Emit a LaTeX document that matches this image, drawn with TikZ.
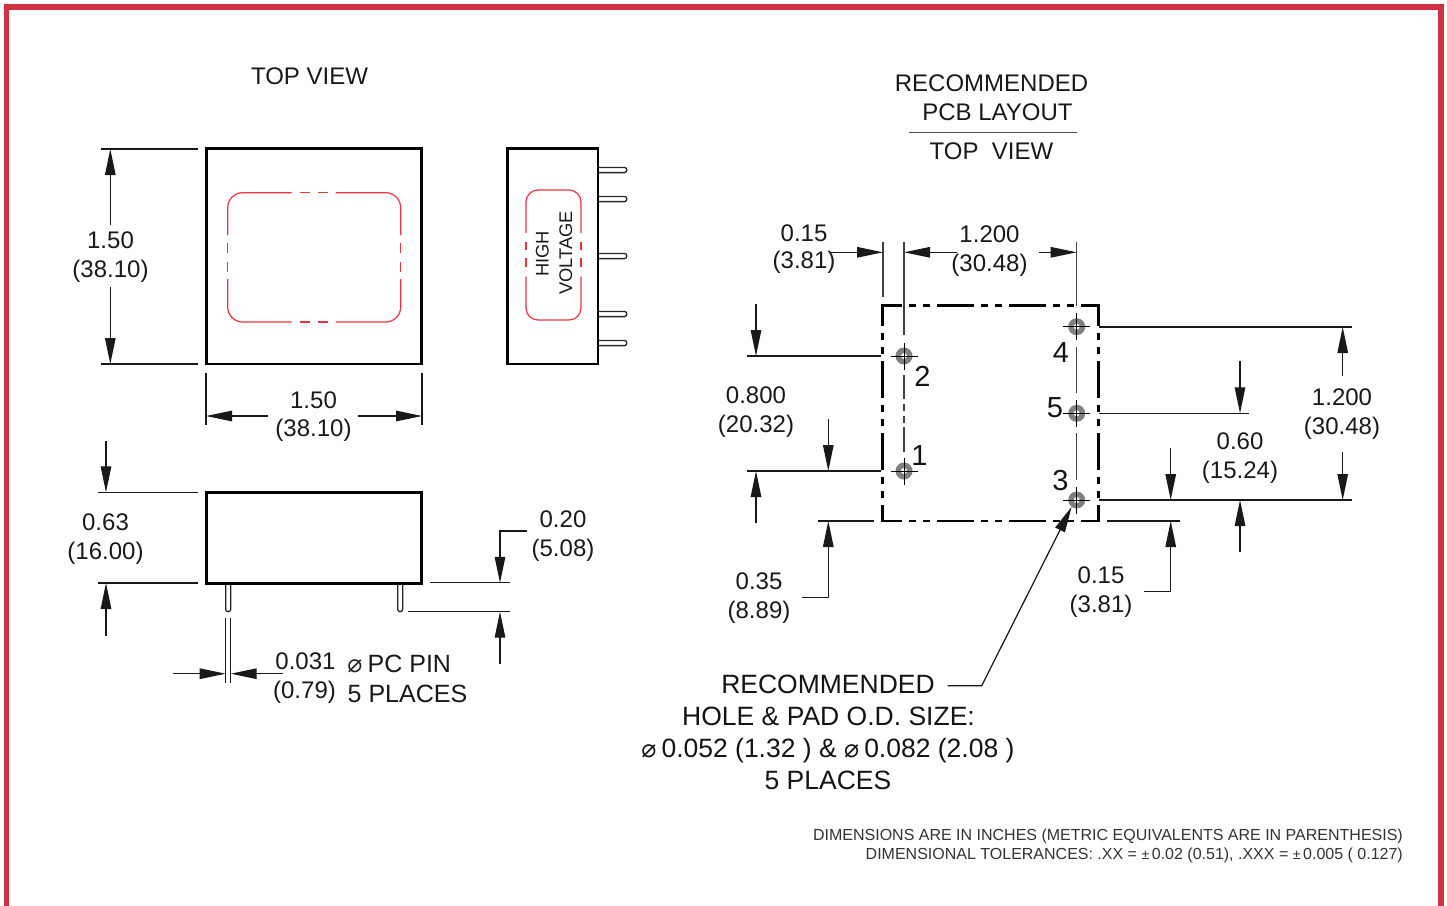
\documentclass[tikz,border=0pt]{standalone}
\usepackage{fontspec}
\setmainfont{Liberation Sans}
\newfontfamily\symf{DejaVu Sans}
\usetikzlibrary{arrows.meta}
\definecolor{frame}{HTML}{CF3341}
\definecolor{redline}{HTML}{EC3340}
\newcommand{\fs}[1]{\fontsize{#1}{#1}\selectfont}
\newcommand{\dia}[1]{{\symf\fs{#1}⌀}}
\tikzset{
  x=1pt,y=-1pt,
  lab/.style={anchor=base,inner sep=0pt,font=\fs{24},text=black!90},
  bigl/.style={anchor=base,inner sep=0pt,font=\fs{26.5},text=black!92},
  num/.style={anchor=base,inner sep=0pt,font=\fs{29},text=black!92},
  note/.style={anchor=base east,inner sep=0pt,font=\fs{16},text=black!80},
  thin line/.style={line width=1.25pt,black!90},
  dimar/.style={thin line,-{Triangle[length=26pt,width=10.5pt]}},
  body/.style={line width=2.8pt,black,line join=miter},
  pinline/.style={line width=1.3pt,black!85,rounded corners=2.4pt},
  redl/.style={line width=1.2pt,redline},
  dashrect/.style={line width=2.8pt,black,dash pattern=on 37pt off 7pt on 7pt off 7pt on 7pt off 7pt,dash phase=15.8pt},
  cline/.style={line width=1.2pt,black!75},
}
\begin{document}
\begin{tikzpicture}
\useasboundingbox (0,0) rectangle (1447,905);
\fill[white] (0,0) rectangle (1447,905);
% outer frame
\draw[frame,line width=5.5pt,line join=miter] (6.7,910) -- (6.7,6.8) -- (1441,6.8) -- (1441,910);

% ---------- titles
\node[lab] (t1) at (309.5,84) {TOP VIEW};
\node[lab] (t2) at (991.5,91) {RECOMMENDED};
\node[lab] (t3) at (997.5,120) {PCB LAYOUT};
\node[lab] (t4) at (991.5,159) {TOP\ \ VIEW};
\draw[line width=1pt,black!70] (909,132) -- (1077,132);

% ---------- top view body
\draw[body] (206.2,148.8) rectangle (421.8,364);
\draw[redl,rounded corners=15pt] (227.7,235) -- (227.7,192.7) -- (291.7,192.7);
\draw[redl,rounded corners=15pt] (335.7,192.7) -- (400.7,192.7) -- (400.7,235);
\draw[redl,rounded corners=15pt] (227.7,279) -- (227.7,322) -- (291.7,322);
\draw[redl,rounded corners=15pt] (335.7,322) -- (400.7,322) -- (400.7,279);
\foreach \y in {192.7,322}{
  \draw[redl] (300,\y) -- (310,\y);
  \draw[redl] (318,\y) -- (328,\y);
}
\foreach \x in {227.7,400.7}{
  \draw[redl] (\x,243) -- (\x,253);
  \draw[redl] (\x,262) -- (\x,272);
}

% ---------- side view body
\foreach \y in {170,199,256,314,343}{
  \draw[pinline] (598,\y-2.6) -- (626.8,\y-2.6) -- (626.8,\y+2.6) -- (598,\y+2.6);
}
\draw[body] (507.3,148.8) rectangle (598,364);
\draw[redl,rounded corners=12pt] (526,233) -- (526,190) -- (581,190) -- (581,233);
\draw[redl,rounded corners=12pt] (526,276.7) -- (526,320) -- (581,320) -- (581,276.7);
\foreach \x in {526,581}{
  \draw[redl] (\x,241.7) -- (\x,250);
  \draw[redl] (\x,258) -- (\x,267);
}
\node[anchor=base,rotate=90,inner sep=0pt,font=\fs{18.3},text=black!90] (hv1) at (548.5,254) {HIGH};
\node[anchor=base,rotate=90,inner sep=0pt,font=\fs{18.3},text=black!90] (hv2) at (572,253) {VOLTAGE};

% ---------- dims of top view
\draw[thin line] (101,149) -- (198,149);
\draw[thin line] (101,364) -- (198,364);
\draw[dimar] (110.3,225) -- (110.3,149);
\draw[dimar] (110.3,287) -- (110.3,364);
\node[lab] (d1) at (110.5,248) {1.50};
\node[lab] (d2) at (110.5,277) {(38.10)};
\draw[thin line] (206,373) -- (206,425);
\draw[thin line] (422,373) -- (422,425);
\draw[dimar] (268,416) -- (206,416);
\draw[dimar] (358,416) -- (422,416);
\node[lab] (d3) at (313.5,408) {1.50};
\node[lab] (d4) at (313.5,436) {(38.10)};

% ---------- front view body
\draw[pinline] (225.7,584) -- (225.7,611.7) -- (230.7,611.7) -- (230.7,584);
\draw[pinline] (397.7,584) -- (397.7,611.7) -- (402.7,611.7) -- (402.7,584);
\draw[body] (206.2,492.5) rectangle (421.8,583.5);

\draw[thin line] (98,492.3) -- (198,492.3);
\draw[thin line] (98,583) -- (198,583);
\draw[dimar] (106,441) -- (106,492.3);
\draw[dimar] (106,636) -- (106,583);
\node[lab] (d5) at (105.5,530) {0.63};
\node[lab] (d6) at (105.5,559) {(16.00)};

\draw[thin line] (430,582.8) -- (510,582.8);
\draw[thin line] (408,611.7) -- (510,611.7);
\draw[dimar] (526.7,531) -- (500,531) -- (500,582.8);
\draw[dimar] (500,664) -- (500,611.7);
\node[lab] (d7) at (563,527) {0.20};
\node[lab] (d8) at (563,556) {(5.08)};

\draw[thin line] (225.7,617.7) -- (225.7,683);
\draw[thin line] (230.7,617.7) -- (230.7,683);
\draw[dimar] (173,673.7) -- (225.7,673.7);
\draw[dimar] (282.7,673.7) -- (230.7,673.7);
\node[lab] (d9) at (305.5,669) {0.031};
\node[lab] (d10) at (304.5,698) {(0.79)};
\node[anchor=base,inner sep=0pt,text=black!85] (d11) at (355,672.5) {\dia{25}};
\node[anchor=base west,inner sep=0pt,font=\fs{25},text=black!90] (d12) at (367.5,672) {PC PIN};
\node[anchor=base west,inner sep=0pt,font=\fs{25},text=black!90] (d13) at (347.5,702) {5 PLACES};

% ---------- PCB layout
\draw[cline] (883,242) -- (883,297);
\draw[cline] (904,242) -- (904,335);
\draw[cline] (1076.7,242) -- (1076.7,306);
\draw[cline] (904,375) -- (904,399);
\draw[cline] (904,404) -- (904,411);
\draw[cline] (904,416) -- (904,423);
\draw[cline] (904,427) -- (904,452);
\draw[cline] (1076.7,347) -- (1076.7,393);
\draw[cline] (1076.7,433) -- (1076.7,480);

\draw[dashrect] (880.9,305.7) -- (1099.7,305.7);
\draw[dashrect] (880.9,520.9) -- (1099.7,520.9);
\draw[dashrect] (882.3,304.3) -- (882.3,522.3);
\draw[dashrect] (1098.3,304.3) -- (1098.3,522.3);

\foreach \n/\x/\y in {p2/904/356,p1/904/471,p4/1076.7/326.7,p5/1076.7/413.3,p3/1076.7/500}{
  \coordinate (\n) at (\x,\y);
  \fill[black!50] (\n) circle[radius=8.5pt];
  \fill[white] (\n) circle[radius=3pt];
  \draw[line width=1pt,black] (\x-13.5,\y) -- (\x+13.5,\y);
  \draw[line width=1pt,black] (\x,\y-13.5) -- (\x,\y+13.5);
}
\node[num] (n1) at (919.5,465) {1};
\node[num] (n2) at (922.5,386) {2};
\node[num] (n3) at (1060.5,490) {3};
\node[num] (n4) at (1061,362) {4};
\node[num] (n5) at (1055,417) {5};

% dims top
\draw[dimar] (830,252.3) -- (883,252.3);
\draw[dimar] (956.7,252.3) -- (904,252.3);
\draw[dimar] (1039,252.3) -- (1076.7,252.3);
\node[lab] (e1) at (804,241) {0.15};
\node[lab] (e2) at (804,268) {(3.81)};
\node[lab] (e3) at (989.5,242) {1.200};
\node[lab] (e4) at (989.5,271) {(30.48)};

% dims left
\draw[thin line] (746.7,356) -- (881,356);
\draw[thin line] (746.7,471) -- (881,471);
\draw[dimar] (756,304) -- (756,356);
\draw[dimar] (828.3,419) -- (828.3,471);
\draw[dimar] (756,523) -- (756,471);
\draw[thin line] (818,521) -- (874,521);
\draw[dimar] (801.7,597.3) -- (828.3,597.3) -- (828.3,521);
\node[lab] (e5) at (756,403) {0.800};
\node[lab] (e6) at (756,432) {(20.32)};
\node[lab] (e7) at (759,589) {0.35};
\node[lab] (e8) at (759,618) {(8.89)};

% dims right
\draw[thin line] (1099,327) -- (1351.7,327);
\draw[thin line] (1099,413.3) -- (1249,413.3);
\draw[thin line] (1099,500) -- (1351.7,500);
\draw[line width=2pt,black!90] (1099,500) -- (1250,500);
\draw[thin line] (1106.7,521) -- (1180,521);
\draw[dimar] (1342.7,375.7) -- (1342.7,327);
\draw[dimar] (1342.7,451.7) -- (1342.7,500);
\draw[dimar] (1240,361) -- (1240,413.3);
\draw[dimar] (1240,552) -- (1240,500);
\draw[dimar] (1170.7,447.7) -- (1170.7,500);
\draw[dimar] (1144,591.7) -- (1170.7,591.7) -- (1170.7,521);
\node[lab] (e9) at (1342,405) {1.200};
\node[lab] (e10) at (1342,434) {(30.48)};
\node[lab] (e11) at (1240,449) {0.60};
\node[lab] (e12) at (1240,478) {(15.24)};
\node[lab] (e13) at (1101,583) {0.15};
\node[lab] (e14) at (1101,612) {(3.81)};

% hole leader
\draw[dimar] (947.7,685.7) -- (981.7,685.7) -- (1071.7,506.7);
\node[bigl] (h1) at (828,693) {RECOMMENDED};
\node[bigl] (h2) at (828.5,725) {HOLE \& PAD O.D. SIZE:};
\node[bigl] (h3) at (828,757) {\dia{25}\hspace{5pt}0.052 (1.32 ) \& \dia{25}\hspace{5pt}0.082 (2.08 )};
\node[bigl] (h4) at (828,789) {5 PLACES};

% notes
\node[note] (k1) at (1403,840) {DIMENSIONS ARE IN INCHES (METRIC EQUIVALENTS ARE IN PARENTHESIS)};
\node[note] (k2) at (1403,859) {DIMENSIONAL TOLERANCES: .XX = {\fs{14}±}\,0.02 (0.51), .XXX = {\fs{14}±}\,0.005 ( 0.127)};
\end{tikzpicture}
\end{document}
